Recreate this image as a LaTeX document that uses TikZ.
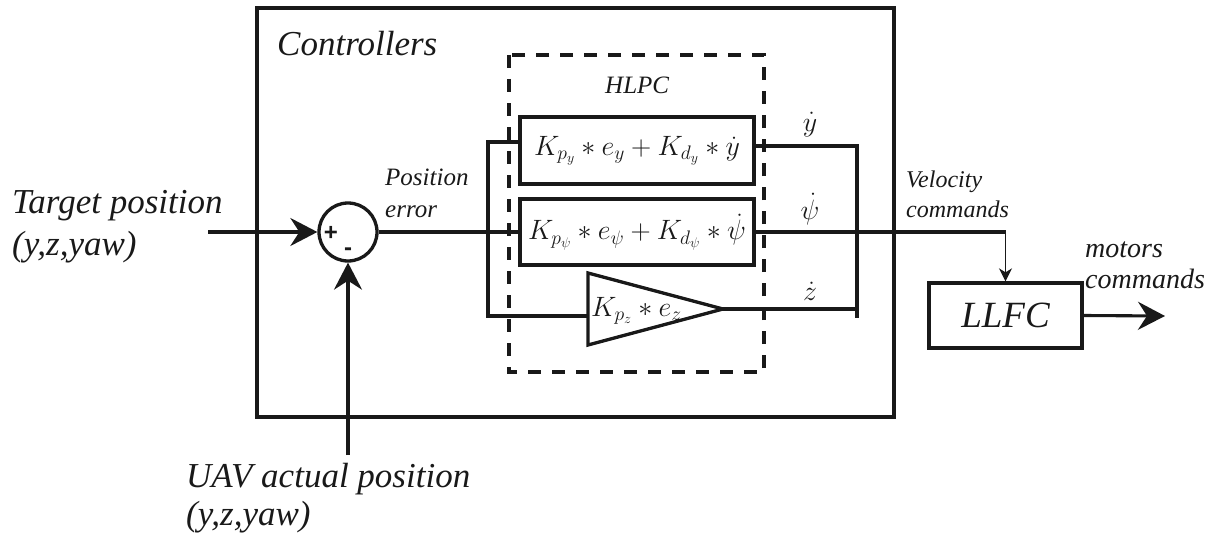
\RequirePackage{fix-cm}
\documentclass[tikz,border=0pt]{standalone}
\usepackage{amsmath}
\usepackage{fontspec}
\setmainfont{Liberation Serif}
\newfontfamily\labelfont{Liberation Serif}
\newfontfamily\signfont{Liberation Sans}
\usepackage{tikz}
\usetikzlibrary{
    arrows.meta,
    positioning,
    calc
}
\definecolor{wireblack}{RGB}{25, 25, 25}

\begin{document}
\begin{tikzpicture}[x=1pt, y=-1pt, color=wireblack,
            blk/.style={draw, line width=3.3pt, minimum width=234pt, minimum height=67pt, inner sep=0pt},
            wire/.style={line width=3.1pt},
            bigarrow/.style={-{Stealth[length=27pt, width=28pt, inset=9pt]}, line width=3.1pt},
            lbl/.style={font=\fontsize{35}{40}\selectfont\labelfont\itshape, anchor=base west, inner sep=0pt},
            smalllbl/.style={font=\fontsize{25}{30}\selectfont\labelfont\itshape, anchor=base west, inner sep=0pt},
            mathlbl/.style={font=\fontsize{28}{32}\selectfont, inner sep=0pt},
            signlbl/.style={font=\fontsize{24}{24}\selectfont\signfont\bfseries, inner sep=0pt}]
            \useasboundingbox (0,0) rectangle (1208,535);

            % Controllers
            \draw[line width=3.3pt] (257,8) rectangle (894,417);
            \node[lbl] (ctrl) at (277,56) {Controllers};

            % HLPC
            \draw[line width=3.1pt, dash pattern=on 13pt off 11pt] (509,55) rectangle (764,372);
            \node[smalllbl] (hlpc) at (605,93) {HLPC};
            \node[blk, mathlbl] (ky) at (637,150.5) {$K_{p_y} * e_y + K_{d_y} * \dot{y}$};
            \node[blk, mathlbl, minimum height=66pt] (kpsi) at (637,232) {$K_{p_\psi} * e_\psi + K_{d_\psi} * \dot{\psi}$};
            \draw[line width=3.3pt, line join=miter] (588,273) -- (723,309) -- (588,345) -- cycle;
            \node[mathlbl, anchor=west] (kz) at (591,311) {$K_{p_z} * e_z$};
            \coordinate (ztip) at (723,309);

            % Sum
            \node[draw, circle, line width=3.3pt, minimum size=58pt, inner sep=0pt] (sum) at (348,232) {};
            \node[signlbl] (plus) at (331,233) {+};
            \node[signlbl] (minus) at (348,252) {-};

            % Inputs
            \coordinate (tin) at (208,232);
            \coordinate (uin) at (348,455);
            \draw[bigarrow] (tin) -- (sum.west);
            \draw[bigarrow] (uin) -- (sum.south);
            \node[lbl] (target) at (12,213) {Target position};
            \node[lbl] (targetyz) at (12,255) {(y,z,yaw)};
            \node[lbl] (uav) at (186,487) {UAV actual position};
            \node[lbl] (uavyz) at (186,525) {(y,z,yaw)};

            % Position error
            \coordinate (br) at (488,232);
            \coordinate (tyin) at (520,142);
            \coordinate (tzin) at (588,316);
            \draw[wire] (sum.east) -- (kpsi.west);
            \draw[wire] (tyin) -| (br) |- (tzin);
            \node[smalllbl] (poserr) at (385,185) {Position};
            \node[smalllbl] (poserr2) at (385,217) {error};

            % Velocity commands
            \coordinate (tyout) at (754,146);
            \coordinate (bustop) at (857,146);
            \coordinate (busbot) at (857,318);
            \draw[wire] (tyout) -- (bustop) -- (busbot);
            \draw[wire] (ztip) -- (ztip -| bustop);
            \node[mathlbl, anchor=base] (ydot) at (810,131) {$\dot{y}$};
            \node[mathlbl, anchor=base] (psidot) at (810,219) {$\dot{\psi}$};
            \node[mathlbl, anchor=base] (zdot) at (810,300) {$\dot{z}$};
            \node[smalllbl, font=\fontsize{24}{28}\selectfont\labelfont\itshape] (velo) at (906,187) {Velocity};
            \node[smalllbl, font=\fontsize{24}{28}\selectfont\labelfont\itshape] (velo2) at (906,217) {commands};

            % LLFC
            \node[blk, minimum width=153pt, minimum height=65pt, font=\fontsize{37}{40}\selectfont\labelfont\itshape] (llfc) at (1005.5,315.5) {LLFC};
            \draw[wire] (kpsi.east) -- (kpsi.east -| llfc.north);
            \draw[-{Stealth[length=13pt, width=13pt, inset=4pt]}, line width=1.7pt] (kpsi.east -| llfc.north) -- (llfc.north);
            \coordinate (mout) at (1165,316);
            \draw[bigarrow] (llfc.east) -- (mout);
            \node[smalllbl, font=\fontsize{28}{32}\selectfont\labelfont\itshape] (motors) at (1085,257) {motors};
            \node[smalllbl, font=\fontsize{28}{32}\selectfont\labelfont\itshape] (motors2) at (1085,288) {commands};
        \end{tikzpicture}
\end{document}
